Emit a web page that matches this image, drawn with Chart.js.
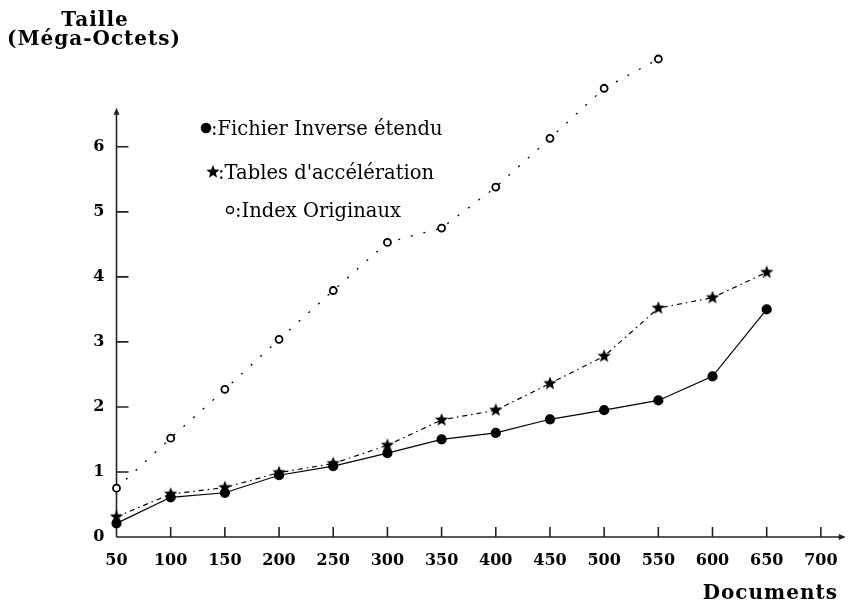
<!DOCTYPE html>
<html>
<head>
<meta charset="utf-8">
<script src="https://cdn.jsdelivr.net/npm/chart.js@4.4.1/dist/chart.umd.min.js"></script>
<style>
  html, body { margin: 0; padding: 0; background: #fff; }
  canvas { display: block; }
</style>
</head>
<body>
<canvas id="chart" width="854" height="605"></canvas>
<script>
// number of documents
const documents = [50, 100, 150, 200, 250, 300, 350, 400, 450, 500, 550, 600, 650];
// sizes in MB
const fichierInverse = [0.21, 0.61, 0.68, 0.95, 1.09, 1.29, 1.50, 1.60, 1.81, 1.95, 2.10, 2.47, 3.50];
const tablesAcceleration = [0.31, 0.66, 0.76, 0.99, 1.13, 1.41, 1.80, 1.95, 2.36, 2.78, 3.52, 3.68, 4.07];
const indexOriginaux = [0.75, 1.52, 2.27, 3.04, 3.79, 4.53, 4.75, 5.38, 6.13, 6.90, 7.35];

const xTicks = [50, 100, 150, 200, 250, 300, 350, 400, 450, 500, 550, 600, 650, 700];
const yTicks = [0, 1, 2, 3, 4, 5, 6];
const yAxisEnd = 6.6; // where the drawn y axis (arrow) stops

const legendLabels = [":Fichier Inverse étendu", ":Tables d'accélération", ":Index Originaux"];

const serif = "'DejaVu Serif', serif";

function toPoints(values) {
  return values.map((v, i) => ({ x: documents[i], y: v }));
}

// filled five point star as a point style
function makeStar(r) {
  const c = document.createElement("canvas");
  c.width = c.height = 2 * r + 2;
  const g = c.getContext("2d");
  g.translate(r + 1, r + 1);
  g.beginPath();
  for (let i = 0; i < 10; i++) {
    const rad = i % 2 === 0 ? r : r * 0.42;
    const a = -Math.PI / 2 + i * Math.PI / 5;
    g.lineTo(rad * Math.cos(a), rad * Math.sin(a));
  }
  g.closePath();
  g.fillStyle = "#000";
  g.fill();
  return c;
}
const star = makeStar(7);

const axesPlugin = {
  id: "axes",
  beforeDatasetsDraw(chart) {
    const { ctx, scales: { x, y } } = chart;
    const x0 = x.getPixelForValue(50);
    const y0 = y.getPixelForValue(0);
    const xEnd = x.right;
    const yTop = y.getPixelForValue(yAxisEnd);
    ctx.save();
    ctx.strokeStyle = "#222";
    ctx.fillStyle = "#222";
    ctx.lineWidth = 1.6;
    ctx.beginPath();
    ctx.moveTo(x0, y0);
    ctx.lineTo(xEnd - 4, y0);
    ctx.moveTo(x0, y0);
    ctx.lineTo(x0, yTop + 4);
    // tick marks pointing inside
    xTicks.forEach(t => {
      const px = x.getPixelForValue(t);
      ctx.moveTo(px, y0);
      ctx.lineTo(px, y0 - 10);
    });
    yTicks.forEach(t => {
      const py = y.getPixelForValue(t);
      ctx.moveTo(x0, py);
      ctx.lineTo(x0 + 12, py);
    });
    ctx.stroke();
    // arrow heads
    ctx.beginPath();
    ctx.moveTo(xEnd, y0);
    ctx.lineTo(xEnd - 7, y0 - 3);
    ctx.lineTo(xEnd - 7, y0 + 3);
    ctx.closePath();
    ctx.moveTo(x0, yTop);
    ctx.lineTo(x0 - 3, yTop + 7);
    ctx.lineTo(x0 + 3, yTop + 7);
    ctx.closePath();
    ctx.fill();
    ctx.restore();
  },
  afterDraw(chart) {
    const { ctx } = chart;
    ctx.save();
    ctx.fillStyle = "#000";
    // axis titles
    ctx.font = "bold 20px " + serif;
    ctx.letterSpacing = "1px";
    ctx.textAlign = "center";
    ctx.textBaseline = "alphabetic";
    ctx.fillText("Taille", 95, 26);
    ctx.fillText("(Méga-Octets)", 94, 45);
    ctx.textAlign = "right";
    ctx.fillText("Documents", 838, 599);
    ctx.letterSpacing = "0px";

    // legend inside the plot
    const items = [
      { x: 206, y: 128, style: "circle", r: 4.5, fill: "#000" },
      { x: 213, y: 172, style: star, r: 7, fill: "#000" },
      { x: 230, y: 210, style: "circle", r: 3.5, fill: "#fff" }
    ];
    ctx.font = "19.5px " + serif;
    ctx.textAlign = "left";
    ctx.textBaseline = "middle";
    items.forEach((it, i) => {
      ctx.fillStyle = it.fill;
      ctx.strokeStyle = "#000";
      ctx.lineWidth = 1.5;
      Chart.helpers.drawPoint(ctx, { pointStyle: it.style, radius: it.r, rotation: 0, borderWidth: 1.5 }, it.x, it.y);
      ctx.fillStyle = "#000";
      ctx.fillText(legendLabels[i], it.x + 5, it.y + 2);
    });
    ctx.restore();
  }
};

new Chart(document.getElementById("chart"), {
  type: "line",
  data: {
    datasets: [
      {
        label: "Fichier Inverse étendu",
        data: toPoints(fichierInverse),
        borderColor: "#000",
        borderWidth: 1.2,
        pointStyle: "circle",
        pointRadius: 4.5,
        pointBackgroundColor: "#000",
        pointBorderColor: "#000",
        clip: false
      },
      {
        label: "Tables d'accélération",
        data: toPoints(tablesAcceleration),
        borderColor: "#000",
        borderWidth: 1.2,
        borderDash: [5, 4, 1.5, 4],
        pointStyle: star,
        pointRadius: 7,
        clip: false
      },
      {
        label: "Index Originaux",
        data: toPoints(indexOriginaux),
        borderColor: "#000",
        borderWidth: 1.3,
        borderDash: [2, 11],
        pointStyle: "circle",
        pointRadius: 3.5,
        pointBackgroundColor: "#fff",
        pointBorderColor: "#000",
        pointBorderWidth: 1.8,
        clip: false
      }
    ]
  },
  options: {
    responsive: false,
    animation: false,
    devicePixelRatio: 1,
    layout: { padding: { top: 52.5, right: 2, left: 0, bottom: 0 } },
    plugins: {
      legend: { display: false },
      tooltip: { enabled: false },
      title: { display: false }
    },
    scales: {
      x: {
        type: "linear",
        min: 50,
        max: 723,
        afterBuildTicks: s => { s.ticks = xTicks.map(v => ({ value: v })); },
        afterFit: s => { s.height = 68; },
        grid: { display: false, drawTicks: false },
        border: { display: false },
        ticks: {
          padding: 14,
          color: "#000",
          font: { family: serif, size: 16, weight: "bold" }
        }
      },
      y: {
        min: 0,
        max: 7.45,
        afterBuildTicks: s => { s.ticks = yTicks.map(v => ({ value: v })); },
        afterFit: s => { s.width = 116.5; },
        grid: { display: false, drawTicks: false },
        border: { display: false },
        ticks: {
          padding: 12,
          color: "#000",
          font: { family: serif, size: 16, weight: "bold" }
        }
      }
    }
  },
  plugins: [axesPlugin]
});
</script>
</body>
</html>
